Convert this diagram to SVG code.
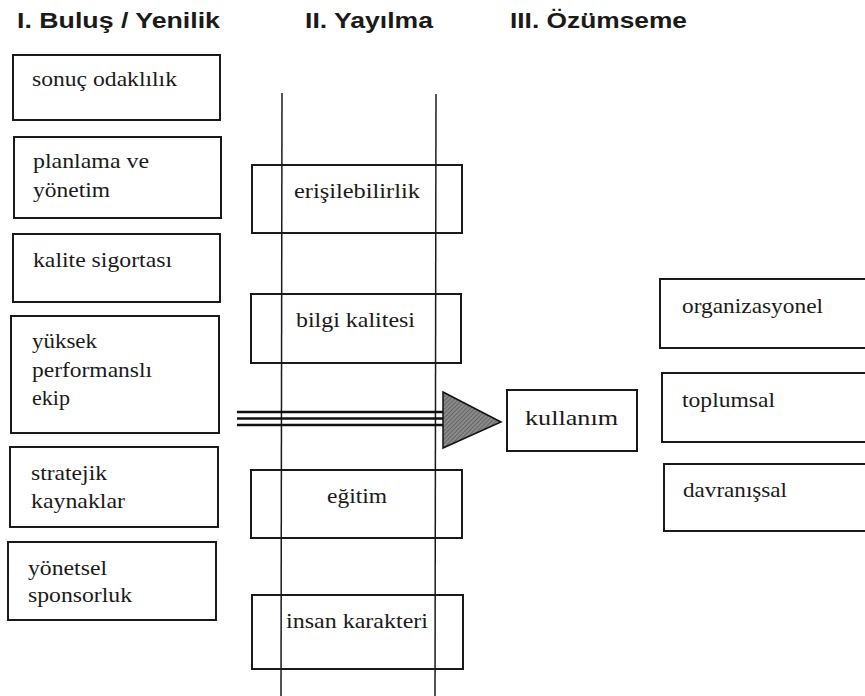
<svg xmlns="http://www.w3.org/2000/svg" width="865" height="696" viewBox="0 0 865 696">
<style>
.box{fill:#fff;stroke:#1a1a1a;stroke-width:2}
.t{font-family:"Liberation Serif","Times New Roman",serif;font-size:22px;fill:#1a1a1a}
.h{font-family:"Liberation Sans",Arial,sans-serif;font-size:22px;font-weight:bold;fill:#1a1a1a}
.lane{stroke:#1a1a1a;stroke-width:1.5;fill:none}
.shaft{stroke:#111;stroke-width:2.5;fill:none}
</style>
<defs>
<pattern id="hatch" width="3" height="3" patternUnits="userSpaceOnUse" patternTransform="rotate(45)">
<rect width="3" height="3" fill="#8a8a8a"/>
<line x1="0" y1="0" x2="0" y2="3" stroke="#555" stroke-width="1.4"/>
</pattern>
</defs>
<rect width="865" height="696" fill="#fff"/>
<g id="titles">
<text class="h" x="17" y="28" textLength="203" lengthAdjust="spacingAndGlyphs">I. Buluş / Yenilik</text>
<text class="h" x="305" y="28" textLength="128" lengthAdjust="spacingAndGlyphs">II. Yayılma</text>
<text class="h" x="510" y="28" textLength="177" lengthAdjust="spacingAndGlyphs">III. Özümseme</text>
</g>
<g id="n-sonuc"><rect class="box" x="13" y="55" width="207" height="65"/><text class="t" x="32" y="86" textLength="145" lengthAdjust="spacingAndGlyphs">sonuç odaklılık</text></g>
<g id="n-planlama"><rect class="box" x="14" y="137" width="207" height="81"/><text class="t" x="33" y="168" textLength="116" lengthAdjust="spacingAndGlyphs">planlama ve</text><text class="t" x="33" y="197" textLength="77" lengthAdjust="spacingAndGlyphs">yönetim</text></g>
<g id="n-kalite"><rect class="box" x="13" y="234" width="207" height="68"/><text class="t" x="33" y="267" textLength="139" lengthAdjust="spacingAndGlyphs">kalite sigortası</text></g>
<g id="n-yuksek"><rect class="box" x="11" y="316" width="208" height="117"/><text class="t" x="32" y="348" textLength="65" lengthAdjust="spacingAndGlyphs">yüksek</text><text class="t" x="32" y="377" textLength="120" lengthAdjust="spacingAndGlyphs">performanslı</text><text class="t" x="32" y="405" textLength="38" lengthAdjust="spacingAndGlyphs">ekip</text></g>
<g id="n-stratejik"><rect class="box" x="10" y="447" width="208" height="80"/><text class="t" x="31" y="480" textLength="76" lengthAdjust="spacingAndGlyphs">stratejik</text><text class="t" x="31" y="508" textLength="94" lengthAdjust="spacingAndGlyphs">kaynaklar</text></g>
<g id="n-yonetsel"><rect class="box" x="8" y="542" width="208" height="78"/><text class="t" x="28" y="575" textLength="79" lengthAdjust="spacingAndGlyphs">yönetsel</text><text class="t" x="28" y="602" textLength="104" lengthAdjust="spacingAndGlyphs">sponsorluk</text></g>
<g id="n-erisilebilirlik"><rect class="box" x="252" y="165" width="210" height="68"/><text class="t" x="294" y="198" textLength="126" lengthAdjust="spacingAndGlyphs">erişilebilirlik</text></g>
<g id="n-bilgi"><rect class="box" x="251" y="294" width="210" height="69"/><text class="t" x="296" y="327" textLength="119" lengthAdjust="spacingAndGlyphs">bilgi kalitesi</text></g>
<g id="n-egitim"><rect class="box" x="251" y="470" width="211" height="68"/><text class="t" x="327" y="503" textLength="60" lengthAdjust="spacingAndGlyphs">eğitim</text></g>
<g id="n-insan"><rect class="box" x="252" y="595" width="211" height="74"/><text class="t" x="286" y="628" textLength="142" lengthAdjust="spacingAndGlyphs">insan karakteri</text></g>
<g id="n-kullanim"><rect class="box" x="507" y="390" width="130" height="61"/><text class="t" x="525" y="425" textLength="93" lengthAdjust="spacingAndGlyphs">kullanım</text></g>
<g id="n-organizasyonel"><rect class="box" x="660" y="279" width="212" height="69"/><text class="t" x="682" y="313" textLength="141" lengthAdjust="spacingAndGlyphs">organizasyonel</text></g>
<g id="n-toplumsal"><rect class="box" x="662" y="373" width="210" height="69"/><text class="t" x="682" y="407" textLength="93" lengthAdjust="spacingAndGlyphs">toplumsal</text></g>
<g id="n-davranissal"><rect class="box" x="664" y="464" width="208" height="67"/><text class="t" x="683" y="497" textLength="104" lengthAdjust="spacingAndGlyphs">davranışsal</text></g>
<g id="connectors">
<line class="lane" x1="282" y1="93" x2="281" y2="696"/>
<line class="lane" x1="436" y1="94" x2="435" y2="696"/>
<line class="shaft" x1="237" y1="412" x2="444" y2="412"/>
<line class="shaft" x1="237" y1="418.5" x2="444" y2="418.5"/>
<line class="shaft" x1="237" y1="425" x2="444" y2="425"/>
<polygon points="443,392 501,422 443,448" fill="url(#hatch)" stroke="#111" stroke-width="1.5" stroke-linejoin="miter"/>
</g>
</svg>
